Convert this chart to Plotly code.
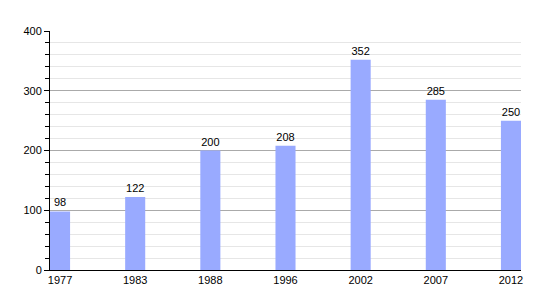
import plotly.graph_objects as go

years = ["1977", "1983", "1988", "1996", "2002", "2007", "2012"]
population = [98, 122, 200, 208, 352, 285, 250]
y_ticks = [0, 100, 200, 300, 400]

w = 0.267
xpos = list(range(len(years)))

fig = go.Figure(go.Bar(
    x=xpos, y=population, width=w,
    marker=dict(color="#99aaff", line=dict(width=0)),
    text=[str(v) for v in population], textposition="outside",
    textfont=dict(family="Liberation Sans, Arial", size=11, color="black"),
    cliponaxis=False,
))

fig.update_layout(
    width=550, height=300,
    margin=dict(l=50, r=29, t=31, b=30),
    plot_bgcolor="white", paper_bgcolor="white",
    showlegend=False,
    font=dict(family="Liberation Sans, Arial", size=11, color="black"),
    xaxis=dict(
        range=[-w / 2, len(years) - 1 + w / 2],
        tickvals=xpos, ticktext=years,
        showgrid=False, zeroline=False,
        showline=True, linecolor="black", linewidth=1,
        ticks="", ticklabelstandoff=0,
    ),
    yaxis=dict(
        range=[0, 400],
        tickvals=y_ticks,
        showgrid=True, gridcolor="#aaaaaa", gridwidth=1,
        zeroline=False,
        showline=True, linecolor="black", linewidth=1,
        ticks="outside", ticklen=5, tickcolor="black",
        minor=dict(dtick=20, ticks="outside", ticklen=4, tickcolor="black",
                   showgrid=True, gridcolor="#e6e6e6", gridwidth=1),
    ),
)

fig.write_html("out.html")
